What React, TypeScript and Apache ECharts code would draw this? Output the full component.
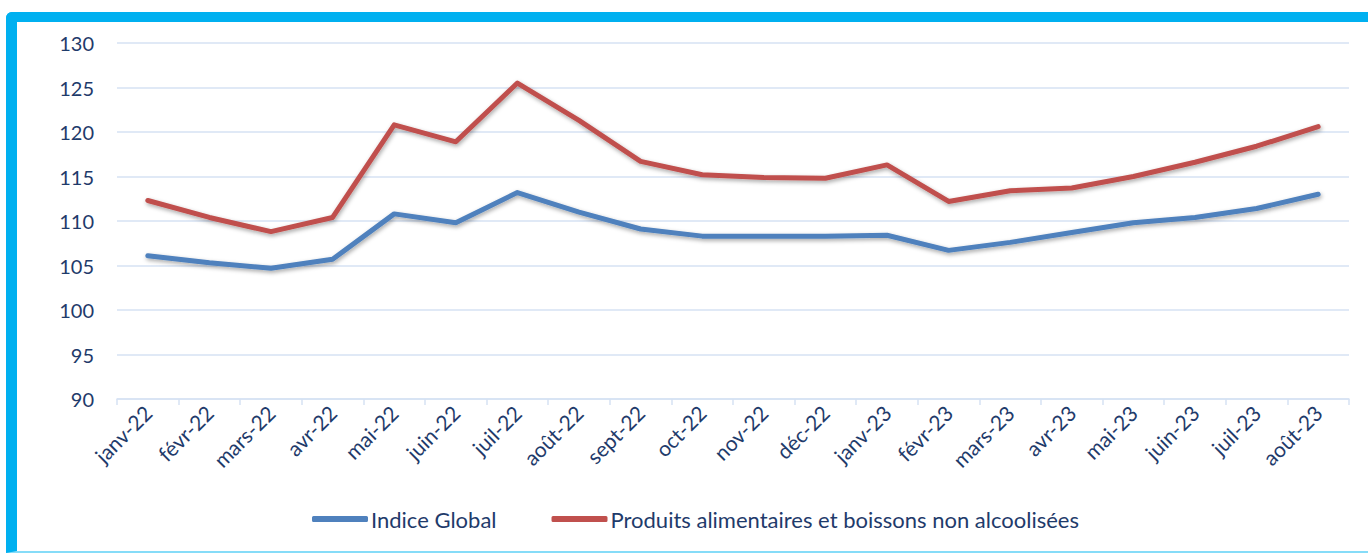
import React, { useEffect, useRef } from "react";
import * as echarts from "echarts";

const categories = [
  "janv-22", "févr-22", "mars-22", "avr-22", "mai-22", "juin-22", "juil-22", "août-22",
  "sept-22", "oct-22", "nov-22", "déc-22", "janv-23", "févr-23", "mars-23", "avr-23",
  "mai-23", "juin-23", "juil-23", "août-23",
];

const indiceGlobal = [
  106.1, 105.3, 104.7, 105.7, 110.8, 109.8, 113.2, 111.0, 109.1, 108.3,
  108.3, 108.3, 108.4, 106.7, 107.6, 108.7, 109.8, 110.4, 111.4, 113.0,
];

const produitsAlimentaires = [
  112.3, 110.4, 108.8, 110.4, 120.8, 118.9, 125.5, 121.3, 116.7, 115.2,
  114.9, 114.8, 116.3, 112.2, 113.4, 113.7, 115.0, 116.6, 118.4, 120.6,
];

const seriesNames = ["Indice Global", "Produits alimentaires et boissons non alcoolisées"];

const textColor = "#1F3B6B";
const gridColor = "#D6E2F3";
const FONT = "Lato, 'Open Sans', sans-serif";

export default function App() {
  const ref = useRef<HTMLDivElement>(null);

  useEffect(() => {
    if (!ref.current) return;
    const chart = echarts.init(ref.current, undefined, { renderer: "svg" });
    const shadow = {
      shadowColor: "rgba(0,0,0,0.35)",
      shadowBlur: 4,
      shadowOffsetX: 1,
      shadowOffsetY: 2,
    };
    chart.setOption({
      animation: false,
      textStyle: { fontFamily: FONT },
      grid: { left: 117, right: 19, top: 43, bottom: 154, containLabel: false },
      legend: {
        bottom: 18,
        left: 307,
        itemWidth: 56,
        itemHeight: 6,
        itemGap: 55,
        icon: "roundRect",
        textStyle: { color: textColor, fontSize: 22, fontFamily: FONT, padding: [0, 0, 0, -2] },
        data: seriesNames,
      },
      xAxis: {
        type: "category",
        data: categories,
        boundaryGap: true,
        axisLine: { lineStyle: { color: gridColor, width: 1.5 } },
        axisTick: { show: true, length: 6, lineStyle: { color: gridColor, width: 1.5 } },
        axisLabel: {
          rotate: 45,
          color: textColor,
          fontSize: 21,
          fontFamily: FONT,
          margin: 10,
          interval: 0,
        },
      },
      yAxis: {
        type: "value",
        min: 90,
        max: 130,
        interval: 5,
        axisLine: { show: false },
        axisTick: { show: false },
        splitLine: { lineStyle: { color: gridColor, width: 1.5 } },
        axisLabel: { color: textColor, fontSize: 20, fontFamily: FONT, margin: 23 },
      },
      series: [
        {
          name: seriesNames[0],
          type: "line",
          data: indiceGlobal,
          symbol: "none",
          itemStyle: { color: "#4F81BD" },
          lineStyle: { color: "#4F81BD", width: 5, cap: "round", join: "round", ...shadow },
        },
        {
          name: seriesNames[1],
          type: "line",
          data: produitsAlimentaires,
          symbol: "none",
          itemStyle: { color: "#C0504D" },
          lineStyle: { color: "#C0504D", width: 5, cap: "round", join: "round", ...shadow },
        },
      ],
    });
    return () => chart.dispose();
  }, []);

  return (
    <div style={{ position: "fixed", left: 0, top: 0, width: 1368, height: 553, background: "#fff", overflow: "hidden" }}>
      <div
        style={{
          position: "absolute",
          left: 6,
          top: 12,
          width: 1420,
          height: 529,
          borderTop: "10px solid #00B0F0",
          borderLeft: "11px solid #00B0F0",
          borderBottom: "2px solid #86DCF8",
          borderTopLeftRadius: 6,
        }}
      />
      <div ref={ref} style={{ position: "absolute", left: 0, top: 0, width: 1368, height: 553 }} />
    </div>
  );
}
